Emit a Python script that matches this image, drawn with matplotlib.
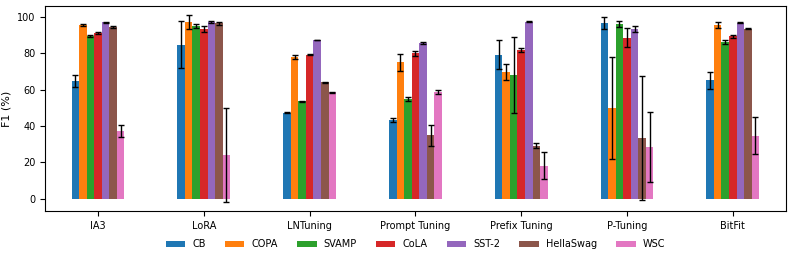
import matplotlib
matplotlib.use('Agg')
import matplotlib.pyplot as plt
import numpy as np

methods = ['IA3', 'LoRA', 'LNTuning', 'Prompt Tuning', 'Prefix Tuning', 'P-Tuning', 'BitFit']
tasks = ['CB', 'COPA', 'SVAMP', 'CoLA', 'SST-2', 'HellaSwag', 'WSC']

# F1 mean per task, one entry per method
cb = [64.8, 84.8, 47.2, 43.3, 79.3, 96.7, 65.1]
copa = [95.6, 97.2, 78.0, 75.0, 69.7, 49.9, 95.6]
svamp = [89.3, 95.0, 53.6, 54.8, 67.9, 96.1, 86.4]
cola = [91.2, 93.4, 79.3, 80.0, 81.8, 88.6, 89.3]
sst2 = [97.0, 97.0, 87.3, 85.7, 97.4, 93.4, 96.7]
hellaswag = [94.5, 96.4, 64.0, 34.9, 29.2, 33.4, 93.6]
wsc = [37.1, 24.2, 58.5, 58.9, 18.2, 28.4, 34.7]

# std
cb_err = [3.2, 13.0, 0.3, 0.9, 8.1, 3.5, 4.8]
copa_err = [0.5, 3.7, 1.0, 4.6, 4.4, 27.9, 1.7]
svamp_err = [0.5, 1.3, 0.4, 1.0, 20.9, 1.65, 1.1]
cola_err = [0.4, 1.65, 0.3, 1.3, 1.0, 5.2, 0.7]
sst2_err = [0.3, 0.5, 0.2, 0.6, 0.3, 1.7, 0.3]
hellaswag_err = [0.5, 0.8, 0.3, 5.8, 1.3, 34.3, 0.2]
wsc_err = [3.3, 25.9, 0.3, 1.1, 7.3, 19.2, 10.3]

means = [cb, copa, svamp, cola, sst2, hellaswag, wsc]
errs = [cb_err, copa_err, svamp_err, cola_err, sst2_err, hellaswag_err, wsc_err]

x = np.arange(len(methods))
w = 0.5 / len(tasks)

fig, ax = plt.subplots(figsize=(7.92, 2.6), dpi=100)
for j, (m, e) in enumerate(zip(means, errs)):
    ax.bar(x + (j - 3) * w, m, w, yerr=e, capsize=2.5, label=tasks[j],
           error_kw={'elinewidth': 1, 'capthick': 1})

ax.set_xticks(x)
ax.set_xticklabels(methods, fontsize=7)
ax.tick_params(axis='y', labelsize=7)
ax.set_xlim(-0.5, 6.5)
ax.set_ylabel('F1 (%)', fontsize=8)
ax.legend(loc='upper center', bbox_to_anchor=(0.5, -0.095), ncol=7, frameon=False,
          fontsize=7, handlelength=2.0, handletextpad=0.7, columnspacing=2.0)
plt.subplots_adjust(left=0.057, right=0.992, top=0.977, bottom=0.188)
plt.savefig('out.png')
